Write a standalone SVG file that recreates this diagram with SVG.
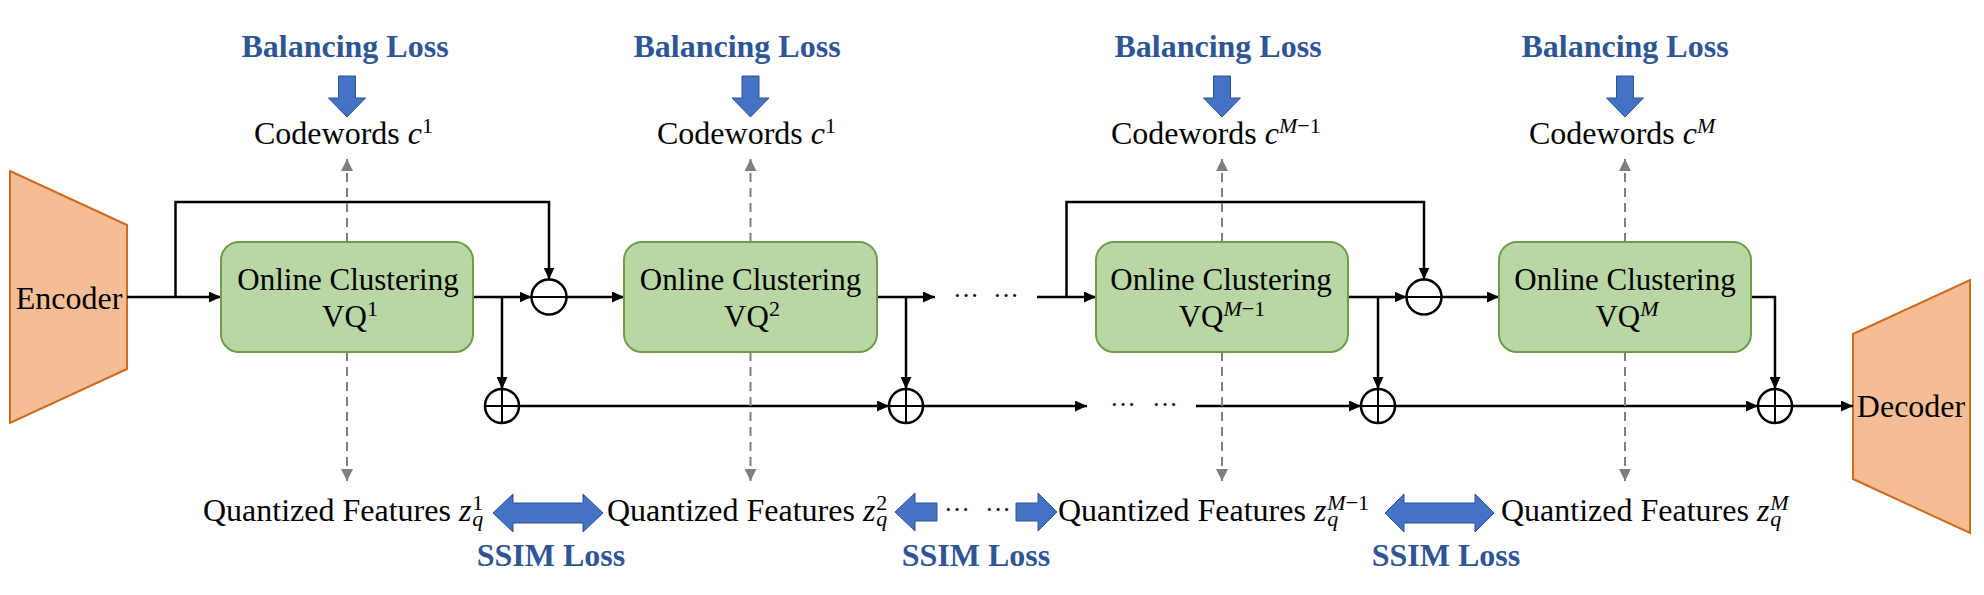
<svg xmlns="http://www.w3.org/2000/svg" width="1984" height="595" viewBox="0 0 1984 595">
<style>
.ln{stroke:#000;stroke-width:2.5;fill:none;marker-end:url(#ah)}
.dash{stroke:#7F7F7F;stroke-width:2;stroke-dasharray:9 6;fill:none;marker-end:url(#gh)}
.box{fill:#B9D7A4;stroke:#6E9E48;stroke-width:2}
.coder{fill:#F5BD96;stroke:#D06A1E;stroke-width:2}
.blue{fill:#4472C4;stroke:#2F528F;stroke-width:1}
.op{fill:#fff;stroke:#000;stroke-width:2.5}
.opl{stroke:#000;stroke-width:2}
.t{font-family:"Liberation Serif","Times New Roman",serif;font-size:32px;fill:#000}
.c{font-size:31px;text-anchor:middle}
.b{font-weight:bold;fill:#2F5597}
.m{text-anchor:middle}
.it{font-style:italic}
.sm{font-size:22px}
.dots{font-family:"Liberation Serif","Times New Roman",serif;font-size:26px;fill:#000}
</style>
<defs>
<marker id="ah" markerUnits="userSpaceOnUse" markerWidth="12" markerHeight="11" refX="12" refY="5.5" orient="auto"><path d="M0,0 L12,5.5 L0,11 z" fill="#000"/></marker>
<marker id="gh" markerUnits="userSpaceOnUse" markerWidth="12" markerHeight="12" refX="12" refY="6" orient="auto"><path d="M0,0 L12,6 L0,12 z" fill="#7F7F7F"/></marker>
</defs>
<rect width="1984" height="595" fill="#fff"/>

<g id="encoder"><polygon class="coder" points="10,171 127,225 127,369 10,423"/><text class="t m" x="69" y="309">Encoder</text></g>
<g id="decoder"><polygon class="coder" points="1853,334 1970,280 1970,533 1853,479"/><text class="t m" x="1911" y="417">Decoder</text></g>

<g id="connectors">
<path class="ln" d="M127,297 H221"/>
<path class="ln" d="M175.5,297 V202 H549 V279.5"/>
<path class="ln" d="M473,297 H531.5"/>
<path class="ln" d="M566.5,297 H624"/>
<path class="ln" d="M502,297 V389"/>
<path class="ln" d="M519,406 H889"/>
<path class="ln" d="M877,297 H935"/>
<path class="ln" d="M1037,297 H1096"/>
<path class="ln" d="M1066.5,297 V202 H1424 V279.5"/>
<path class="ln" d="M906,297 V389"/>
<path class="ln" d="M923,406 H1087"/>
<path class="ln" d="M1196,406 H1361"/>
<path class="ln" d="M1348,297 H1406.5"/>
<path class="ln" d="M1378,297 V389"/>
<path class="ln" d="M1441.5,297 H1499"/>
<path class="ln" d="M1395,406 H1758"/>
<path class="ln" d="M1751,297 H1775 V389"/>
<path class="ln" d="M1792,406 H1853"/>
<path class="dash" d="M347,242 V159"/>
<path class="dash" d="M347,352 V481"/>
<path class="dash" d="M750.5,242 V159"/>
<path class="dash" d="M750.5,352 V481"/>
<path class="dash" d="M1222,242 V159"/>
<path class="dash" d="M1222,352 V481"/>
<path class="dash" d="M1625,242 V159"/>
<path class="dash" d="M1625,352 V481"/>
</g>

<g id="vq1"><rect class="box" x="221" y="242" width="252" height="110" rx="18"/><text class="t c" x="348" y="290">Online Clustering</text><text class="t c" x="350" y="327">VQ<tspan class="sm" dy="-11">1</tspan></text></g>
<g id="vq2"><rect class="box" x="624" y="242" width="253" height="110" rx="18"/><text class="t c" x="750.5" y="290">Online Clustering</text><text class="t c" x="752" y="327">VQ<tspan class="sm" dy="-11">2</tspan></text></g>
<g id="vq3"><rect class="box" x="1096" y="242" width="252" height="110" rx="18"/><text class="t c" x="1221" y="290">Online Clustering</text><text class="t c" x="1222" y="327">VQ<tspan class="sm it" dy="-11">M</tspan><tspan class="sm">−1</tspan></text></g>
<g id="vq4"><rect class="box" x="1499" y="242" width="252" height="110" rx="18"/><text class="t c" x="1625" y="290">Online Clustering</text><text class="t c" x="1627" y="327">VQ<tspan class="sm it" dy="-11">M</tspan></text></g>

<g id="minus1"><circle class="op" cx="549" cy="297" r="17.5"/><line class="opl" x1="531.5" y1="297" x2="566.5" y2="297"/></g>
<g id="minus3"><circle class="op" cx="1424" cy="297" r="17.5"/><line class="opl" x1="1406.5" y1="297" x2="1441.5" y2="297"/></g>
<g id="plus1"><circle class="op" cx="502" cy="406" r="17"/><path class="opl" d="M485,406 H519 M502,389 V423"/></g>
<g id="plus2"><circle class="op" cx="906" cy="406" r="17"/><path class="opl" d="M889,406 H923 M906,389 V423"/></g>
<g id="plus3"><circle class="op" cx="1378" cy="406" r="17"/><path class="opl" d="M1361,406 H1395 M1378,389 V423"/></g>
<g id="plus4"><circle class="op" cx="1775" cy="406" r="17"/><path class="opl" d="M1758,406 H1792 M1775,389 V423"/></g>

<g id="dots">
<text class="dots" x="953" y="304">···</text><text class="dots" x="993" y="304">···</text>
<text class="dots" x="1110" y="413">···</text><text class="dots" x="1152" y="413">···</text>
<text class="dots" x="944" y="518">···</text><text class="dots" x="985" y="518">···</text>
</g>

<g id="balancing1"><text class="t b m" x="345" y="57">Balancing Loss</text><polygon class="blue" points="338.5,76 355.5,76 355.5,98 365.5,98 347,117 328.5,98 338.5,98"/></g>
<g id="balancing2"><text class="t b m" x="737" y="57">Balancing Loss</text><polygon class="blue" points="742,76 759,76 759,98 769,98 750.5,117 732,98 742,98"/></g>
<g id="balancing3"><text class="t b m" x="1218" y="57">Balancing Loss</text><polygon class="blue" points="1213.5,76 1230.5,76 1230.5,98 1240.5,98 1222,117 1203.5,98 1213.5,98"/></g>
<g id="balancing4"><text class="t b m" x="1625" y="57">Balancing Loss</text><polygon class="blue" points="1616.5,76 1633.5,76 1633.5,98 1643.5,98 1625,117 1606.5,98 1616.5,98"/></g>

<g id="codewords1"><text class="t" x="254" y="144">Codewords <tspan class="it">c</tspan><tspan class="sm" dy="-11">1</tspan></text></g>
<g id="codewords2"><text class="t" x="657" y="144">Codewords <tspan class="it">c</tspan><tspan class="sm" dy="-11">1</tspan></text></g>
<g id="codewords3"><text class="t" x="1111" y="144">Codewords <tspan class="it">c</tspan><tspan class="sm it" dy="-11">M</tspan><tspan class="sm">−1</tspan></text></g>
<g id="codewords4"><text class="t" x="1529" y="144">Codewords <tspan class="it">c</tspan><tspan class="sm it" dy="-11">M</tspan></text></g>

<g id="qf1"><text class="t" x="203" y="521">Quantized Features <tspan class="it">z</tspan><tspan class="sm it" dx="1" dy="5">q</tspan><tspan class="sm" dx="-11" dy="-16">1</tspan></text></g>
<g id="qf2"><text class="t" x="607" y="521">Quantized Features <tspan class="it">z</tspan><tspan class="sm it" dx="1" dy="5">q</tspan><tspan class="sm" dx="-11" dy="-16">2</tspan></text></g>
<g id="qf3"><text class="t" x="1058" y="521">Quantized Features <tspan class="it">z</tspan><tspan class="sm it" dx="1" dy="5">q</tspan><tspan class="sm it" dx="-11" dy="-16">M</tspan><tspan class="sm">−1</tspan></text></g>
<g id="qf4"><text class="t" x="1501" y="521">Quantized Features <tspan class="it">z</tspan><tspan class="sm it" dx="1" dy="5">q</tspan><tspan class="sm it" dx="-11" dy="-16">M</tspan></text></g>

<g id="ssim1"><polygon class="blue" points="493,513 513,494 513,503 583,503 583,494 603,513 583,532 583,523 513,523 513,532"/><text class="t b m" x="551" y="566">SSIM Loss</text></g>
<g id="ssim2"><polygon class="blue" points="895,512 915,493 915,503 937,503 937,521 915,521 915,531"/><polygon class="blue" points="1016,503 1038,503 1038,493 1057,512 1038,531 1038,521 1016,521"/><text class="t b m" x="976" y="566">SSIM Loss</text></g>
<g id="ssim3"><polygon class="blue" points="1385,513 1404,494 1404,503 1475,503 1475,494 1494,513 1475,532 1475,523 1404,523 1404,532"/><text class="t b m" x="1446" y="566">SSIM Loss</text></g>
</svg>
